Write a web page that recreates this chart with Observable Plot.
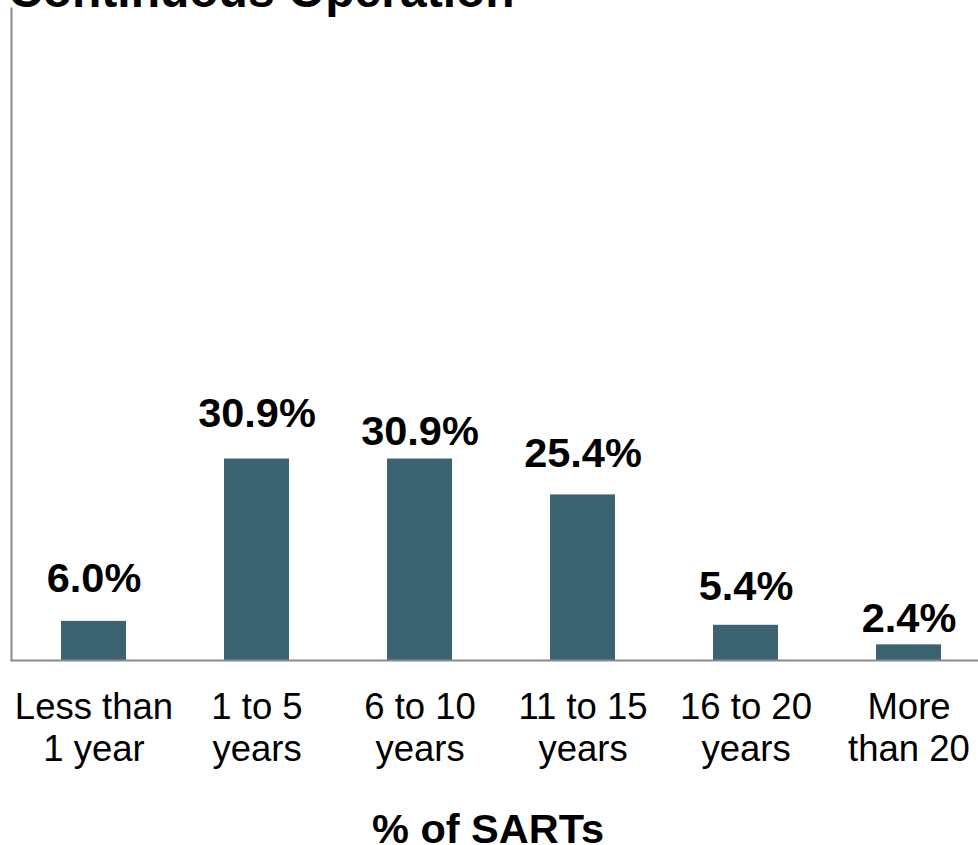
<!DOCTYPE html>
<html>
<head>
<meta charset="utf-8">
<script src="https://cdn.jsdelivr.net/npm/d3@7"></script>
<script src="https://cdn.jsdelivr.net/npm/@observablehq/plot@0.6"></script>
<style>
  html, body { margin: 0; padding: 0; background: #fff; overflow: hidden; }
  #wrap { position: relative; width: 978px; height: 845px; }
  #title { position: absolute; left: 8px; top: -37px; font: bold 48px "Liberation Sans", Arial, sans-serif; color: #000; white-space: nowrap; }
  #chart { position: absolute; left: 0; top: 0; }
</style>
</head>
<body>
<div id="wrap">
  <div id="chart"></div>
  <div id="title">Continuous Operation</div>
</div>
<script>
const categories = ["Less than\n1 year", "1 to 5\nyears", "6 to 10\nyears", "11 to 15\nyears", "16 to 20\nyears", "More\nthan 20"];
const values = [6.0, 30.9, 30.9, 25.4, 5.4, 2.4];
const valueLabels = ["6.0%", "30.9%", "30.9%", "25.4%", "5.4%", "2.4%"];
const axisTitle = "% of SARTs";

const data = categories.map((c, i) => ({cat: c, value: values[i], label: valueLabels[i]}));

// label gap above each bar (style)
const labelGap = [29, 32, 14, 28, 25, 13];
const barColor = "#3b6372";

const labelMarks = data.map((d, i) => Plot.text([d], {
  x: "cat", y: "value", text: "label",
  dy: -labelGap[i], lineAnchor: "bottom",
  fontSize: 41.5, fontWeight: "bold", fill: "#000"
}));

const chart = Plot.plot({
  width: 978,
  height: 845,
  marginLeft: 11,
  marginRight: 0,
  marginTop: 8,
  marginBottom: 185,
  style: {fontFamily: "'Liberation Sans', Arial, sans-serif", background: "transparent", overflow: "visible"},
  x: {domain: categories, range: [11, 992], paddingInner: 0.6, paddingOuter: 0.3, label: null},
  y: {domain: [0, 100], axis: null},
  marks: [
    Plot.barY(data, {x: "cat", y: "value", fill: barColor}),
    Plot.ruleY([0], {stroke: "#8a8a8a", strokeWidth: 2}),
    Plot.frame({anchor: "left", stroke: "#8a8a8a", strokeWidth: 2}),
    ...labelMarks,
    Plot.axisX({tickSize: 0, tickPadding: 29, fontSize: 36.5, lineHeight: 1.15, fill: "#000", label: null, textOverflow: null}),
    Plot.text([axisTitle], {frameAnchor: "bottom", dx: -7, dy: 182, lineAnchor: "bottom", fontSize: 41.5, fontWeight: "bold", fill: "#000", x: null, y: null})
  ]
});
document.getElementById("chart").appendChild(chart);
</script>
</body>
</html>
